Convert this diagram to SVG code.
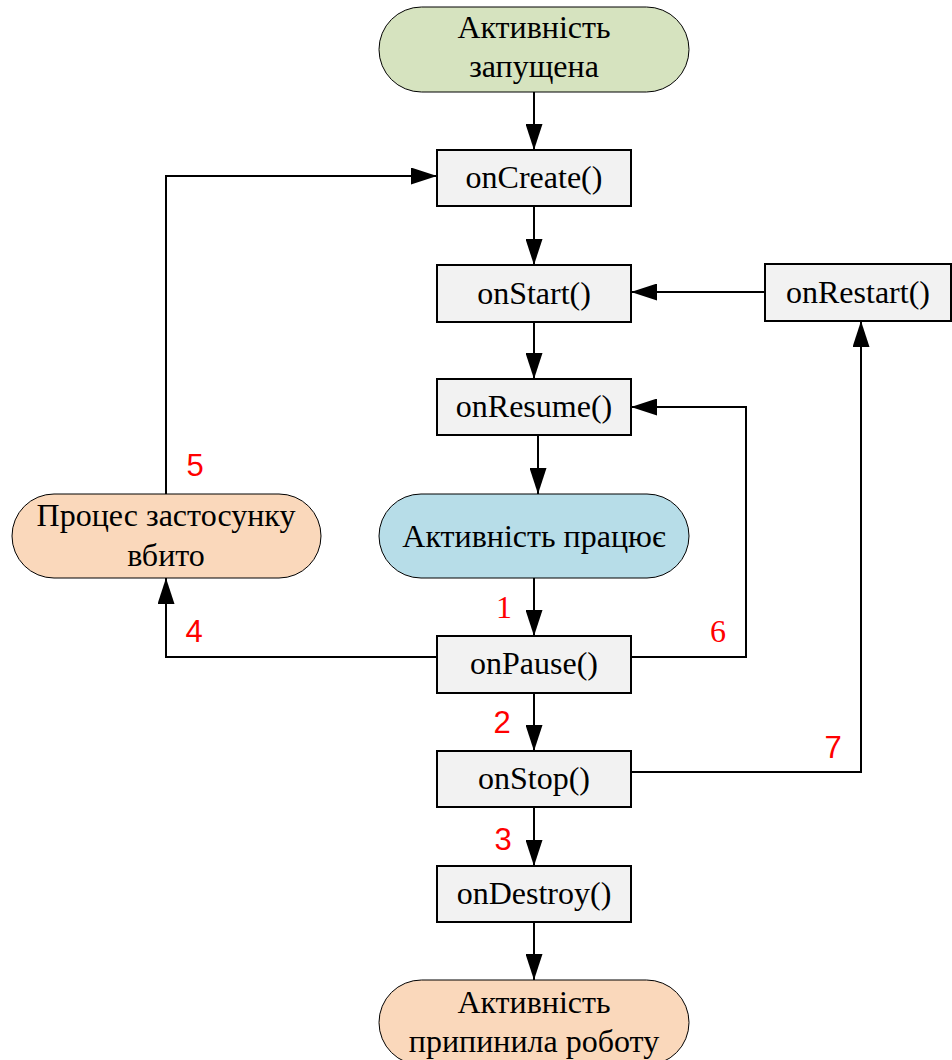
<svg xmlns="http://www.w3.org/2000/svg" width="952" height="1060" viewBox="0 0 952 1060">
<defs>
<marker id="ah" viewBox="0 0 26 17" refX="26" refY="8.5" markerWidth="26" markerHeight="17" markerUnits="userSpaceOnUse" orient="auto">
<path d="M0,0 L26,8.5 L0,17 z" fill="#000"/>
</marker>
<style>
.box{fill:#f2f2f2;stroke:#000;stroke-width:2}
.pill{stroke:#000;stroke-width:1}
.t{font-family:"Liberation Serif","Times New Roman",serif;font-size:32px;fill:#000;text-anchor:middle}
.n{font-family:"Liberation Sans",Arial,sans-serif;font-size:31px;fill:#ff0000;text-anchor:middle}
.ns{font-family:"Liberation Serif","Times New Roman",serif;font-size:32px;fill:#ff0000;text-anchor:middle}
.c{fill:none;stroke:#000;stroke-width:2;marker-end:url(#ah)}
</style>
</defs>
<rect width="952" height="1060" fill="#fff"/>
<g id="connectors">
<path class="c" d="M534,92 V150"/>
<path class="c" d="M534,206 V265"/>
<path class="c" d="M534,322 V379"/>
<path class="c" d="M538,435 V494"/>
<path class="c" d="M534,578 V636"/>
<path class="c" d="M534,693 V751"/>
<path class="c" d="M534,807 V866"/>
<path class="c" d="M534,922 V980"/>
<path class="c" d="M765,292 H631"/>
<path class="c" d="M631,772 H861 V321"/>
<path class="c" d="M631,657 H746 V407 H631"/>
<path class="c" d="M437,657 H166 V578"/>
<path class="c" d="M166,494 V176 H437"/>
</g>
<g id="labels">
<text class="n" x="195" y="476">5</text>
<text class="n" x="194" y="642">4</text>
<text class="ns" x="504" y="618">1</text>
<text class="ns" x="718" y="642">6</text>
<text class="n" x="502" y="733">2</text>
<text class="n" x="833" y="758">7</text>
<text class="n" x="503" y="850">3</text>
</g>
<g id="start">
<rect class="pill" x="379" y="7" width="310" height="85" rx="42.5" fill="#d6e3bf"/>
<text class="t" x="534" y="38">Активність</text>
<text class="t" x="534" y="77">запущена</text>
</g>
<g id="onCreate">
<rect class="box" x="437" y="150" width="194" height="56"/>
<text class="t" x="534" y="188">onCreate()</text>
</g>
<g id="onStart">
<rect class="box" x="437" y="265" width="194" height="57"/>
<text class="t" x="534" y="304">onStart()</text>
</g>
<g id="onRestart">
<rect class="box" x="765" y="264" width="186" height="57"/>
<text class="t" x="858" y="303">onRestart()</text>
</g>
<g id="onResume">
<rect class="box" x="437" y="379" width="194" height="56"/>
<text class="t" x="534" y="417">onResume()</text>
</g>
<g id="running">
<rect class="pill" x="379" y="494" width="310" height="84" rx="42" fill="#b7dde8"/>
<text class="t" x="534" y="547">Активність працює</text>
</g>
<g id="killed">
<rect class="pill" x="12" y="494" width="309" height="84" rx="42" fill="#fad8bb"/>
<text class="t" x="166" y="526">Процес застосунку</text>
<text class="t" x="166" y="566">вбито</text>
</g>
<g id="onPause">
<rect class="box" x="437" y="636" width="194" height="57"/>
<text class="t" x="534" y="674">onPause()</text>
</g>
<g id="onStop">
<rect class="box" x="437" y="751" width="194" height="56"/>
<text class="t" x="534" y="789">onStop()</text>
</g>
<g id="onDestroy">
<rect class="box" x="437" y="866" width="194" height="56"/>
<text class="t" x="534" y="904">onDestroy()</text>
</g>
<g id="end">
<rect class="pill" x="379" y="980" width="310" height="85" rx="42.5" fill="#fad8bb"/>
<text class="t" x="534" y="1013">Активність</text>
<text class="t" x="534" y="1052">припинила роботу</text>
</g>
</svg>
